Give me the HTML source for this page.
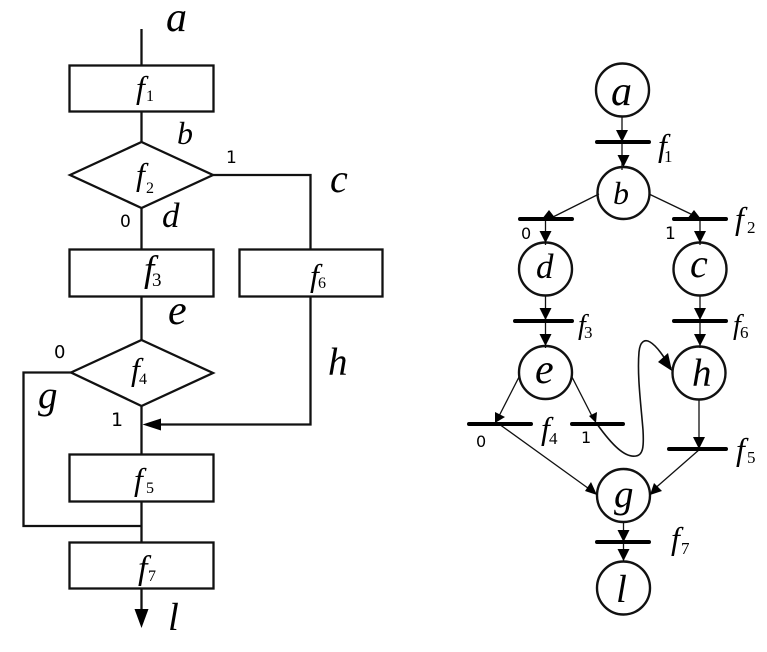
<!DOCTYPE html>
<html>
<head>
<meta charset="utf-8">
<style>
html,body{margin:0;padding:0;background:#fff;width:767px;height:652px;overflow:hidden}
svg{display:block}
.v{font-family:"Liberation Serif",serif;font-style:italic;fill:#000}
.s{font-family:"Liberation Serif",serif;font-size:16px;fill:#000}
.n{font-family:"DejaVu Sans",sans-serif;fill:#000}
</style>
</head>
<body>
<svg width="767" height="652" viewBox="0 0 767 652" xmlns="http://www.w3.org/2000/svg">
<g fill="none" stroke="#111" stroke-width="2.300">
  <path d="M141.500 29V65M141.500 111V142M141.500 208V249M141.500 296V340M141.500 406V454M141.500 501V542M141.500 588V610"/>
  <rect x="69.500" y="65.500" width="144" height="46"/>
  <rect x="69.500" y="249.500" width="144" height="47"/>
  <rect x="239.500" y="249.500" width="143" height="47"/>
  <rect x="69.500" y="454.500" width="144" height="47"/>
  <rect x="69.500" y="542.500" width="144" height="46"/>
  <path d="M70 175L141.500 142L213 175L141.500 208Z"/>
  <path d="M71 372.500L141.500 340L213 373L141.500 406Z"/>
  <path d="M213 175H310.500V249M310.500 296V424.500H160"/>
  <path d="M71 372.500H23.500V526H142.500"/>
</g>
<path d="M134.500 609L148.500 609L141.500 628Z" fill="#000"/>
<path d="M142.500 424.500L161 418.500L161 430.500Z" fill="#000"/>

<g class="v">
  <text x="166" y="31" font-size="42">a</text>
  <text x="177" y="144" font-size="32">b</text>
  <text x="330" y="192" font-size="40">c</text>
  <text x="162" y="227" font-size="35">d</text>
  <text x="168" y="324" font-size="42">e</text>
  <text x="328" y="375" font-size="39">h</text>
  <text x="38" y="408" font-size="39">g</text>
  <text x="168" y="630" font-size="39">l</text>
  <text x="136" y="98" font-size="32">f</text>
  <text x="136" y="185" font-size="32">f</text>
  <text x="144" y="281" font-size="37">f</text>
  <text x="310" y="286" font-size="32">f</text>
  <text x="131" y="380" font-size="32">f</text>
  <text x="134" y="490" font-size="32">f</text>
  <text x="138" y="579" font-size="34">f</text>
</g>
<g class="s">
  <text x="146" y="101">1</text>
  <text x="146" y="193">2</text>
  <text x="152" y="286" font-size="19">3</text>
  <text x="318" y="288">6</text>
  <text x="139" y="384">4</text>
  <text x="146" y="493">5</text>
  <text x="148" y="581">7</text>
</g>
<g class="n">
  <text x="226" y="163" font-size="17">1</text>
  <text x="120" y="227" font-size="17">0</text>
  <text x="54" y="358" font-size="18">0</text>
  <text x="111" y="426" font-size="19">1</text>
</g>

<g fill="none" stroke="#111" stroke-width="1.300">
  <path d="M622 116V142M622 142V170"/>
  <path d="M599 194L553 217M649 194L695 216"/>
  <path d="M545.500 219V245M700 219V245"/>
  <path d="M545.500 295V322M700 295V322M545.500 321V348M700 321V348"/>
  <path d="M519 377L497 420M572 377L594 420"/>
  <path d="M699 399V449"/>
  <path d="M499 424L592 491M700 449L652 491"/>
  <path d="M623.500 522V542M623.500 542V562"/>
  <path d="M597 424C612 445 625 458 636 456C643 455 644 447 643 430C641 405 637 375 639 352C640 341 645 339 650 342C657 346 664 357 671 368" stroke-width="1.600"/>
</g>

<g fill="none" stroke="#111" stroke-width="2.400">
  <circle cx="622.500" cy="90" r="26.500"/>
  <circle cx="623.500" cy="193" r="26"/>
  <circle cx="545.500" cy="269" r="26.500"/>
  <circle cx="700" cy="269" r="26.500"/>
  <circle cx="545.500" cy="372.500" r="26.500"/>
  <circle cx="699" cy="373" r="26.500"/>
  <circle cx="623.500" cy="495.500" r="26.500"/>
  <circle cx="623.500" cy="588" r="26.500"/>
</g>

<g stroke="#000" stroke-width="4" stroke-linecap="round">
  <path d="M597 142H649M520 219H572M674 219H726M515 321H572M674 321H726M469 424H531M572 424H623M669 449H726M597 542H649"/>
</g>

<g fill="#000">
  <path d="M622 142L616 130H628Z"/>
  <path d="M623.500 167L617.500 155H629.500Z"/>
  <path d="M549 210L542 219H556Z"/>
  <path d="M694 210L687 219H701Z"/>
  <path d="M545.500 243L539.500 231H551.500Z"/>
  <path d="M700 243L694 231H706Z"/>
  <path d="M545.500 320L539.500 308H551.500Z"/>
  <path d="M700 320L694 308H706Z"/>
  <path d="M545.500 346L539.500 334H551.500Z"/>
  <path d="M700 346L694 334H706Z"/>
  <path d="M495 423L495 412L505 417Z"/>
  <path d="M596 423L589 416L597 412Z"/>
  <path d="M699 449L693 437H705Z"/>
  <path d="M597 495L585 491L591 482Z"/>
  <path d="M650 495L654 483L662 491Z"/>
  <path d="M623.500 542L617.500 530H629.500Z"/>
  <path d="M623.500 561L617.500 549H629.500Z"/>
  <path d="M672 371L658 362L668 353Z"/>
</g>

<g class="v">
  <text x="611" y="105" font-size="42">a</text>
  <text x="613" y="204" font-size="32">b</text>
  <text x="536" y="278" font-size="35">d</text>
  <text x="690" y="277" font-size="40">c</text>
  <text x="535" y="383" font-size="42">e</text>
  <text x="692" y="386" font-size="39">h</text>
  <text x="614" y="507" font-size="39">g</text>
  <text x="616" y="602" font-size="39">l</text>
  <text x="658" y="156" font-size="32">f</text>
  <text x="735" y="229" font-size="32">f</text>
  <text x="578" y="334" font-size="28">f</text>
  <text x="733" y="334" font-size="28">f</text>
  <text x="541" y="439" font-size="32">f</text>
  <text x="736" y="460" font-size="32">f</text>
  <text x="671" y="549" font-size="32">f</text>
</g>
<g class="s">
  <text x="664" y="162" font-size="17">1</text>
  <text x="747" y="233" font-size="17">2</text>
  <text x="584" y="338" font-size="17">3</text>
  <text x="740" y="338" font-size="17">6</text>
  <text x="549" y="444" font-size="17">4</text>
  <text x="747" y="463" font-size="17">5</text>
  <text x="681" y="554" font-size="17">7</text>
</g>
<g class="n">
  <text x="521" y="239" font-size="16">0</text>
  <text x="665" y="239" font-size="17">1</text>
  <text x="476" y="447" font-size="16">0</text>
  <text x="581" y="443" font-size="16">1</text>
</g>
</svg>
</body>
</html>
